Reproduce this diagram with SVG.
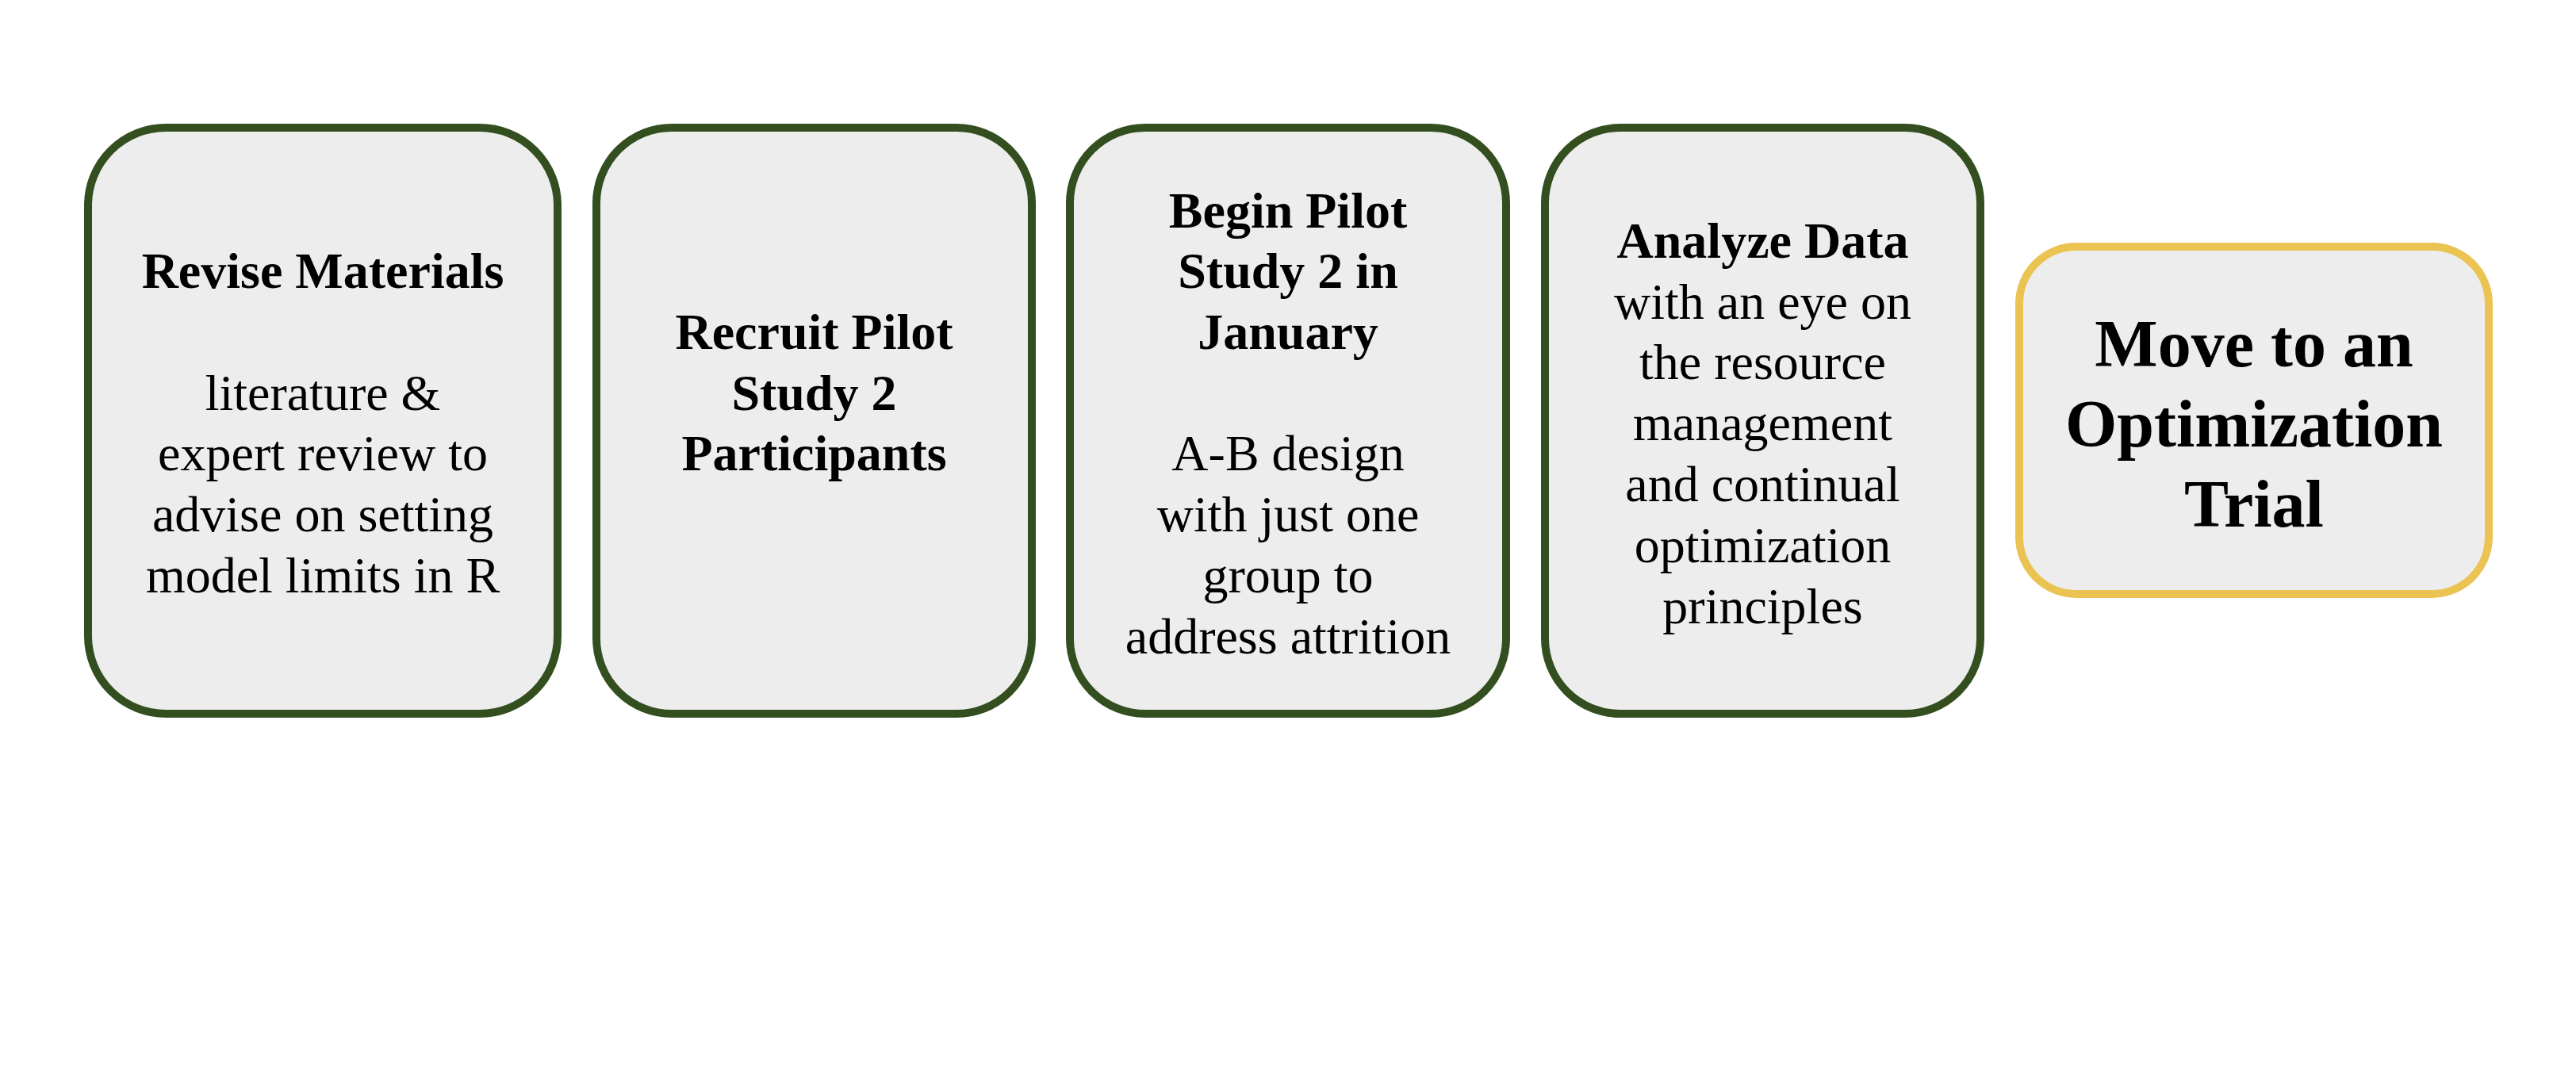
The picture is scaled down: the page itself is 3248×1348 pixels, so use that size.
<svg xmlns="http://www.w3.org/2000/svg" width="3248" height="1348" viewBox="0 0 3248 1348">
<style>
.box{fill:#EDEDED;stroke:#344F1F;stroke-width:10}
.gold{fill:#EDEDED;stroke:#EBC352;stroke-width:10}
text{font-family:"Liberation Serif","Times New Roman",serif;font-size:64px;fill:#000;text-anchor:middle}
.b{font-weight:bold}
.big{font-size:84px;font-weight:bold}
</style>
<rect width="3248" height="1348" fill="#FFFFFF"/>
<g id="connectors"></g>
<g id="node1">
<rect class="box" x="111" y="161" width="592" height="739" rx="98" ry="98"/>
<text class="b" x="407" y="363">Revise Materials</text>
<text x="407" y="517">literature &amp;</text>
<text x="407" y="593">expert review to</text>
<text x="407" y="670">advise on setting</text>
<text x="407" y="747">model limits in R</text>
</g>
<g id="node2">
<rect class="box" x="752" y="161" width="549" height="739" rx="95" ry="95"/>
<text class="b" x="1026.5" y="440">Recruit Pilot</text>
<text class="b" x="1026.5" y="517">Study 2</text>
<text class="b" x="1026.5" y="593">Participants</text>
</g>
<g id="node3">
<rect class="box" x="1349" y="161" width="550" height="739" rx="95" ry="95"/>
<text class="b" x="1624" y="287">Begin Pilot</text>
<text class="b" x="1624" y="363">Study 2 in</text>
<text class="b" x="1624" y="440">January</text>
<text x="1624" y="593">A-B design</text>
<text x="1624" y="670">with just one</text>
<text x="1624" y="747">group to</text>
<text x="1624" y="824">address attrition</text>
</g>
<g id="node4">
<rect class="box" x="1948" y="161" width="549" height="739" rx="95" ry="95"/>
<text class="b" x="2222.5" y="325">Analyze Data</text>
<text x="2222.5" y="402">with an eye on</text>
<text x="2222.5" y="478">the resource</text>
<text x="2222.5" y="555">management</text>
<text x="2222.5" y="632">and continual</text>
<text x="2222.5" y="709">optimization</text>
<text x="2222.5" y="786">principles</text>
</g>
<g id="node5">
<rect class="gold" x="2546" y="311" width="592" height="438" rx="72" ry="72"/>
<text class="big" x="2842" y="462">Move to an</text>
<text class="big" x="2842" y="563">Optimization</text>
<text class="big" x="2842" y="664">Trial</text>
</g>
</svg>
